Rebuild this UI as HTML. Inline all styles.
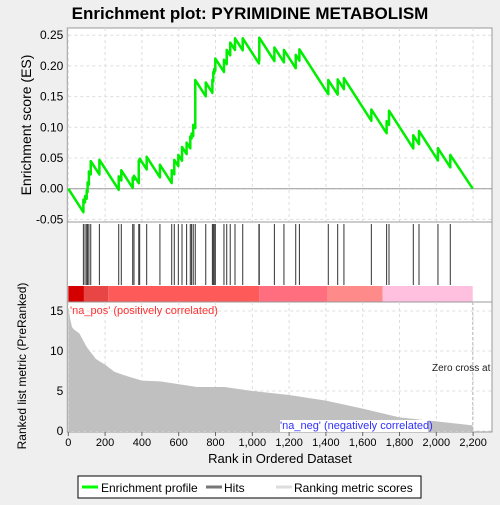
<!DOCTYPE html>
<html><head><meta charset="utf-8"><style>
body{margin:0;background:#efefef;font-family:"Liberation Sans",sans-serif;}
</style></head><body>
<svg width="500" height="500" xmlns="http://www.w3.org/2000/svg" font-family="Liberation Sans, sans-serif">
<rect width="500" height="500" fill="#efefef"/>
<text x="250" y="19" text-anchor="middle" font-size="17" font-weight="bold">Enrichment plot: PYRIMIDINE METABOLISM</text>
<g id="gtop"></g>
<g id="gmid"></g>
<g id="gbot"></g>
<text x="31" y="125" transform="rotate(-90 31 125)" text-anchor="middle" font-size="14">Enrichment score (ES)</text>
<text x="26" y="366" transform="rotate(-90 26 366)" text-anchor="middle" font-size="12">Ranked list metric (PreRanked)</text>
<text x="280" y="463" text-anchor="middle" font-size="13">Rank in Ordered Dataset</text>
<g>
<rect x="78" y="476" width="343" height="22" fill="#fff" stroke="#000"/>
<line x1="82" y1="487" x2="98" y2="487" stroke="#00ff00" stroke-width="3"/>
<text x="101" y="492" font-size="12">Enrichment profile</text>
<line x1="206" y1="487" x2="222" y2="487" stroke="#777" stroke-width="3"/>
<text x="224" y="492" font-size="12">Hits</text>
<line x1="276" y1="487" x2="292" y2="487" stroke="#ddd" stroke-width="3"/>
<text x="294" y="492" font-size="12">Ranking metric scores</text>
</g>
</svg>
<script>
const hitRanks=[82,91,100,105,112,122,169,274,288,350,357,383,388,426,498,562,576,598,618,643,663,670,679,690,747,783,788,793,799,846,861,880,906,948,1036,1038,1120,1172,1236,1256,1413,1464,1498,1647,1730,1743,1875,1906,2009,2076];
const esAtHits=[-0.018,-0.012,-0.003,0.01,0.028,0.045,0.047,0.02,0.03,0.018,0.021,0.046,0.049,0.052,0.039,0.03,0.047,0.055,0.068,0.075,0.085,0.09,0.104,0.177,0.173,0.177,0.19,0.195,0.212,0.21,0.226,0.238,0.245,0.245,0.21,0.246,0.23,0.226,0.218,0.227,0.177,0.178,0.18,0.129,0.11,0.127,0.087,0.094,0.066,0.055];
const metricRanks=[0,10,20,30,60,100,150,200,250,300,400,500,700,850,1000,1200,1400,1600,1800,2000,2198];
const metricVals=[15.5,14,13,12.7,12.2,10.5,9,8.3,7.4,7,6.3,6.2,5.5,5.5,5.0,4.5,3.8,2.8,1.7,1.2,0.7];
const N=2198;
const xTicks=[0,200,400,600,800,1000,1200,1400,1600,1800,2000,2200];
const esTicks=[-0.05,0,0.05,0.1,0.15,0.2,0.25];
const mTicks=[0,5,10,15];
const segStarts=[0,85,217,1037,1406,1708];
const segColors=["#d40000","#e84545","#ff5a5a","#ff6e7e","#ff8a8a","#ffc0e0"];

const NS="http://www.w3.org/2000/svg";
const X0=68.3,X1=492,PX=0.184;
const xs=r=>X0+r*PX;
const esY=v=>188.7-v*614;
const mY=v=>431-v*8;
function mk(tag,at,parent){const e=document.createElementNS(NS,tag);for(const k in at)e.setAttribute(k,at[k]);parent.appendChild(e);return e;}
const gTop=document.getElementById('gtop'),gMid=document.getElementById('gmid'),gBot=document.getElementById('gbot');
mk('rect',{x:X0-1,y:28,width:X1-X0+1,height:194,fill:'#fff',stroke:'#999'},gTop);
mk('rect',{x:X0-1,y:222,width:X1-X0+1,height:80,fill:'#fff',stroke:'#999'},gMid);
mk('rect',{x:X0-1,y:302,width:X1-X0+1,height:130,fill:'#fff',stroke:'#999'},gBot);
xTicks.forEach(t=>{
 mk('line',{x1:xs(t),x2:xs(t),y1:28,y2:222,stroke:'#ddd','stroke-dasharray':'3,3'},gTop);
 mk('line',{x1:xs(t),x2:xs(t),y1:302,y2:432,stroke:'#ddd','stroke-dasharray':'3,3'},gBot);
 const l=mk('text',{x:xs(t),y:446,'text-anchor':'middle','font-size':'11'},gBot);l.textContent=t.toLocaleString('en-US');
 
 
 mk('line',{x1:xs(t),x2:xs(t),y1:432,y2:436,stroke:'#666'},gBot);
});
esTicks.forEach(t=>{
 mk('line',{x1:X0,x2:X1,y1:esY(t),y2:esY(t),stroke:'#ddd','stroke-dasharray':'3,3'},gTop);
 const l=mk('text',{x:X0-5,y:esY(t)+4,'text-anchor':'end','font-size':'12'},gTop);l.textContent=t.toFixed(2);
 
 
});
mk('line',{x1:X0,x2:X1,y1:esY(0),y2:esY(0),stroke:'#999'},gTop);
mTicks.forEach(t=>{
 mk('line',{x1:X0,x2:X1,y1:mY(t),y2:mY(t),stroke:'#ddd','stroke-dasharray':'3,3'},gBot);
 const l=mk('text',{x:X0-5,y:mY(t)+4,'text-anchor':'end','font-size':'12'},gBot);l.textContent=t;
 
 
});
let d=`M${xs(0)},${esY(0)}`;let prev=0,prevR=0;const slope=1/(N-hitRanks.length);
hitRanks.forEach((r,i)=>{const pre=prev-(r-prevR)*slope;d+=` L${xs(r)},${esY(pre)} L${xs(r)},${esY(esAtHits[i])}`;prev=esAtHits[i];prevR=r;});
d+=` L${xs(N)},${esY(0)}`;
const es=mk('path',{d:d,fill:'none',stroke:'#00ee00','stroke-width':2.5,'stroke-linejoin':'round'},gTop);


hitRanks.forEach(r=>{const h=mk('line',{x1:xs(r),x2:xs(r),y1:224,y2:285,stroke:'#333','stroke-width':1},gMid);
 
 });
segStarts.forEach((s,i)=>{const e=i<segStarts.length-1?segStarts[i+1]:N;
 const b=mk('rect',{x:xs(s),y:286,width:xs(e)-xs(s),height:16,fill:segColors[i]},gMid);
 
 });
let md=`M${xs(0)},${mY(0)}`;metricRanks.forEach((r,i)=>{md+=` L${xs(r)},${mY(metricVals[i])}`;});md+=` L${xs(N)},${mY(0)} Z`;
const ma=mk('path',{d:md,fill:'#c0c0c0'},gBot);


mk('line',{x1:xs(N),x2:xs(N),y1:302,y2:432,stroke:'#bbb','stroke-dasharray':'3,2'},gBot);
let t=mk('text',{x:70,y:314,'font-size':'11',fill:'#ff3030'},gBot);t.textContent="'na_pos' (positively correlated)";

mk('rect',{x:280,y:420,width:148,height:12,fill:'#fff'},gBot);
t=mk('text',{x:280,y:429,'font-size':'11',fill:'#3030ff'},gBot);t.textContent="'na_neg' (negatively correlated)";

t=mk('text',{x:432,y:371,'font-size':'10',fill:'#222'},gBot);t.textContent="Zero cross at 2198";

mk('rect',{x:X1+1,y:360,width:10,height:20,fill:'#efefef'},gBot);
</script>
</body></html>
